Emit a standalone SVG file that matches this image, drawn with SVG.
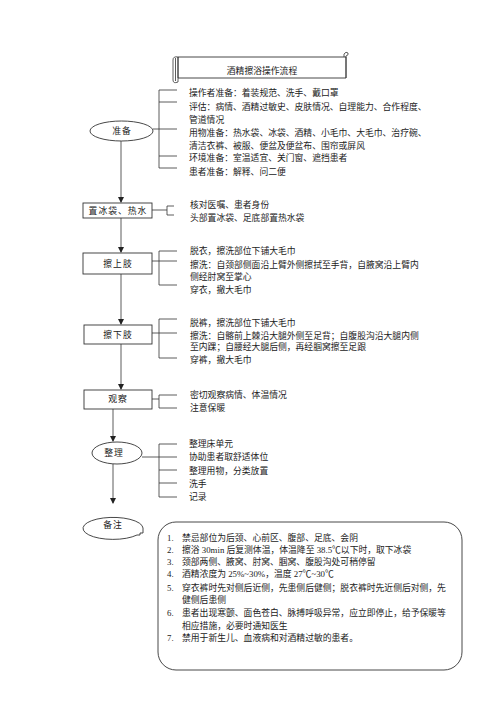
<svg xmlns="http://www.w3.org/2000/svg" width="500" height="708" viewBox="0 0 500 708">
<defs>
<marker id="arr" markerWidth="6" markerHeight="6" refX="5" refY="3" orient="auto" markerUnits="userSpaceOnUse">
<path d="M0,0 L6,3 L0,6 Z" fill="#222"/>
</marker>
<style>
.ln{stroke:#333;stroke-width:0.8;fill:none}
.sh{stroke:#333;stroke-width:0.9;fill:#fff}
.t{font-family:"Liberation Serif","Noto Sans CJK SC",serif;font-size:8.8px;fill:#222}
.c{text-anchor:middle;letter-spacing:1px}
</style>
</defs>
<rect width="500" height="708" fill="#fff"/>

<g id="title">
<path class="sh" d="M178,57 L346,57 L346,78 L178,78 Z"/>
<path class="ln" d="M178,57 Q173,56 173,60 L173,80 Q173,84 178,82 L178,57"/>
<path class="ln" d="M175.5,58 L175.5,81"/>
<path class="ln" d="M344,57 L344,54 Q346,51 348,53 Q349,55 346,56 L346,78"/>
<text class="t" x="262" y="74" text-anchor="middle">酒精擦浴操作流程</text>
</g>

<g id="connectors">
<path class="ln" d="M121,141 L121,202" marker-end="url(#arr)"/>
<path class="ln" d="M121,218 L121,252" marker-end="url(#arr)"/>
<path class="ln" d="M121,274 L121,324" marker-end="url(#arr)"/>
<path class="ln" d="M121,344 L121,389" marker-end="url(#arr)"/>
<path class="ln" d="M113,409 L113,441" marker-end="url(#arr)"/>
<path class="ln" d="M113,464 L113,503" marker-end="url(#arr)"/>
<!-- brackets -->
<path class="ln" d="M153,129 L177,129 M159,90 L159,168 M159,90 L177,90 M159,102 L177,102 M159,156 L177,156 M159,168 L177,168"/>
<path class="ln" d="M152,210 L167,210 M167,206 L167,215 M167,206 L174,206 M167,215 L174,215"/>
<path class="ln" d="M152,261 L177,261 M159,251 L159,285 M159,251 L177,251 M159,285 L177,285"/>
<path class="ln" d="M152,333 L177,333 M159,319 L159,358 M159,319 L177,319 M159,358 L177,358"/>
<path class="ln" d="M152,399 L159,399 M159,395 L159,408 M159,395 L177,395 M159,408 L177,408"/>
<path class="ln" d="M142,457 L177,457 M159,444 L159,497 M159,444 L177,444 M159,470 L177,470 M159,483 L177,483 M159,497 L177,497"/>
</g>

<g id="n-prep">
<ellipse class="sh" cx="121.5" cy="131" rx="31.5" ry="10"/>
<text class="t c" x="122" y="134">准备</text>
<text class="t" x="189" y="96">操作者准备：着装规范、洗手、戴口罩</text>
<text class="t" x="189" y="110">评估：病情、酒精过敏史、皮肤情况、自理能力、合作程度、</text>
<text class="t" x="189" y="123">管道情况</text>
<text class="t" x="189" y="136">用物准备：热水袋、冰袋、酒精、小毛巾、大毛巾、治疗碗、</text>
<text class="t" x="189" y="149">清洁衣裤、被服、便盆及便盆布、围帘或屏风</text>
<text class="t" x="189" y="161">环境准备：室温适宜、关门窗、遮挡患者</text>
<text class="t" x="189" y="175">患者准备：解释、问二便</text>
</g>

<g id="n-ice">
<rect class="sh" x="83" y="203" width="69" height="15"/>
<text class="t c" x="118" y="214">置冰袋、热水</text>
<text class="t" x="190" y="208">核对医嘱、患者身份</text>
<text class="t" x="190" y="221">头部置冰袋、足底部置热水袋</text>
</g>

<g id="n-upper">
<rect class="sh" x="83" y="253" width="69" height="21"/>
<text class="t c" x="118" y="267">擦上肢</text>
<text class="t" x="190" y="254">脱衣，擦洗部位下铺大毛巾</text>
<text class="t" x="190" y="268">擦洗：自颈部侧面沿上臂外侧擦拭至手背，自腋窝沿上臂内</text>
<text class="t" x="190" y="280">侧经肘窝至掌心</text>
<text class="t" x="190" y="293">穿衣，撤大毛巾</text>
</g>

<g id="n-lower">
<rect class="sh" x="84" y="325" width="68" height="19"/>
<text class="t c" x="118" y="338">擦下肢</text>
<text class="t" x="190" y="326">脱裤，擦洗部位下铺大毛巾</text>
<text class="t" x="190" y="339">擦洗：自髂前上棘沿大腿外侧至足背；自腹股沟沿大腿内侧</text>
<text class="t" x="190" y="350">至内踝；自腰经大腿后侧，再经腘窝擦至足跟</text>
<text class="t" x="190" y="363">穿裤，撤大毛巾</text>
</g>

<g id="n-observe">
<rect class="sh" x="84" y="390" width="68" height="19"/>
<text class="t c" x="118" y="402">观察</text>
<text class="t" x="190" y="398">密切观察病情、体温情况</text>
<text class="t" x="190" y="411">注意保暖</text>
</g>

<g id="n-tidy">
<ellipse class="sh" cx="117" cy="453" rx="25" ry="11"/>
<text class="t c" x="114" y="456">整理</text>
<text class="t" x="189" y="447">整理床单元</text>
<text class="t" x="189" y="460">协助患者取舒适体位</text>
<text class="t" x="189" y="474">整理用物，分类放置</text>
<text class="t" x="189" y="487">洗手</text>
<text class="t" x="189" y="500">记录</text>
</g>

<g id="n-note">
<path class="sh" d="M137,535 A30,11 0 1 1 143,528 L143,533 L140,533 L140,535 Z"/>
<text class="t c" x="113" y="528">备注</text>
</g>

<g id="n-notebox">
<rect class="sh" x="158" y="522" width="304" height="148" rx="18" ry="18"/>
<text class="t" x="167" y="541">1.</text><text class="t" x="182" y="541">禁忌部位为后颈、心前区、腹部、足底、会阴</text>
<text class="t" x="167" y="553">2.</text><text class="t" x="182" y="553">擦浴 30min 后复测体温，体温降至 38.5℃以下时，取下冰袋</text>
<text class="t" x="167" y="565">3.</text><text class="t" x="182" y="565">颈部两侧、腋窝、肘窝、腘窝、腹股沟处可稍停留</text>
<text class="t" x="167" y="577">4.</text><text class="t" x="182" y="577">酒精浓度为 25%~30%，温度 27℃~30℃</text>
<text class="t" x="167" y="591">5.</text><text class="t" x="182" y="591">穿衣裤时先对侧后近侧，先患侧后健侧；脱衣裤时先近侧后对侧，先</text>
<text class="t" x="182" y="603">健侧后患侧</text>
<text class="t" x="167" y="616">6.</text><text class="t" x="182" y="616">患者出现寒颤、面色苍白、脉搏呼吸异常，应立即停止，给予保暖等</text>
<text class="t" x="182" y="629">相应措施，必要时通知医生</text>
<text class="t" x="167" y="641">7.</text><text class="t" x="182" y="641">禁用于新生儿、血液病和对酒精过敏的患者。</text>
</g>
</svg>
